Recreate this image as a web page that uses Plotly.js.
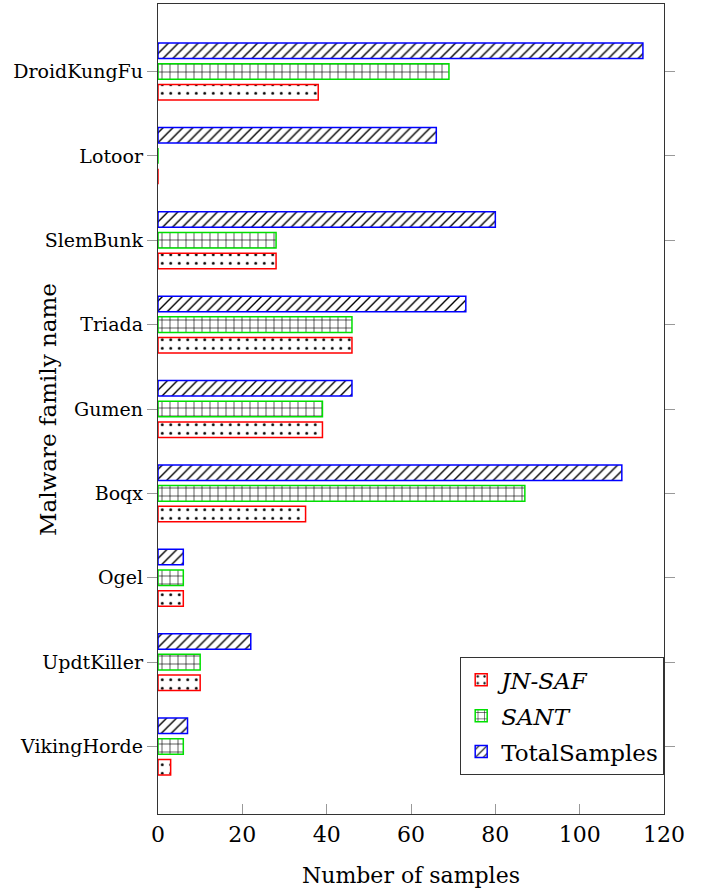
<!DOCTYPE html>
<html>
<head>
<meta charset="utf-8">
<script src="https://cdn.plot.ly/plotly-3.0.1.min.js"></script>
<style>html,body{margin:0;padding:0;background:#fff;}#chart{width:701px;height:890px;}</style>
</head>
<body>
<div id="chart"></div>
<script>
// Data
const families = ["DroidKungFu", "Lotoor", "SlemBunk", "Triada", "Gumen", "Boqx", "Ogel", "UpdtKiller", "VikingHorde"];
const jnsaf = [38, 0, 28, 46, 39, 35, 6, 10, 3];
const sant = [69, 0, 28, 46, 39, 87, 6, 10, 6];
const totalSamples = [115, 66, 80, 73, 46, 110, 6, 22, 7];
const xTicks = [0, 20, 40, 60, 80, 100, 120];

const FONT = "DejaVu Serif";
const barW = 0.184;

function trace(name, vals, lineColor, shape, size, solidity, offset, grp) {
  return {
    type: "bar",
    orientation: "h",
    name: name,
    legendgroup: grp,
    x: vals,
    y: families,
    width: barW,
    offset: offset,
    marker: {
      color: "white",
      line: {color: lineColor, width: 1.5},
      pattern: {shape: shape, size: size, solidity: solidity, fgcolor: "black", bgcolor: "white"}
    },
    hoverinfo: "x+y"
  };
}

const data = [
  trace("<i>JN-SAF</i>", jnsaf, "#ff0000", ".", 8.5, 0.09, 0.153, "a"),
  trace("<i>SANT</i>", sant, "#00e000", "+", 8, 0.15, -0.092, "b"),
  trace("TotalSamples", totalSamples, "#0000ff", "/", 7, 0.2, -0.337, "c")
];

const layout = {
  width: 701,
  height: 890,
  margin: {l: 158, r: 37, t: 4, b: 76},
  paper_bgcolor: "white",
  plot_bgcolor: "white",
  barmode: "overlay",
  showlegend: true,
  font: {family: FONT, color: "black"},
  xaxis: {
    range: [0, 120],
    tickvals: xTicks,
    ticktext: xTicks.map(String),
    ticks: "inside",
    ticklen: 10,
    tickcolor: "#999",
    tickwidth: 1,
    showline: true,
    linecolor: "#333",
    linewidth: 1.2,
    mirror: true,
    showgrid: false,
    zeroline: false,
    tickfont: {family: FONT, size: 22, color: "black"},
    title: {text: "Number of samples", font: {family: FONT, size: 22, color: "black"}, standoff: 22}
  },
  yaxis: {
    type: "category",
    categoryorder: "array",
    categoryarray: families,
    range: [8.8, -0.8],
    ticks: "outside",
    ticklen: 10,
    tickcolor: "#999",
    tickwidth: 1,
    showline: true,
    linecolor: "#333",
    linewidth: 1.2,
    mirror: "ticks",
    showgrid: false,
    zeroline: false,
    tickfont: {family: FONT, size: 19, color: "black"}
  },
  annotations: [{
    text: "Malware family name",
    xref: "paper", yref: "paper",
    x: -0.2174, y: 0.5,
    xanchor: "center", yanchor: "middle",
    textangle: -90,
    showarrow: false,
    font: {family: FONT, size: 23, color: "black"}
  }],
  legend: {
    x: 1,
    xanchor: "right",
    y: 0.048,
    yanchor: "bottom",
    bgcolor: "white",
    bordercolor: "#333",
    borderwidth: 1.2,
    font: {family: FONT, size: 23, color: "black"},
    traceorder: "grouped",
    tracegroupgap: 3
  }
};

Plotly.newPlot("chart", data, layout, {displayModeBar: false, staticPlot: true});
</script>
</body>
</html>
